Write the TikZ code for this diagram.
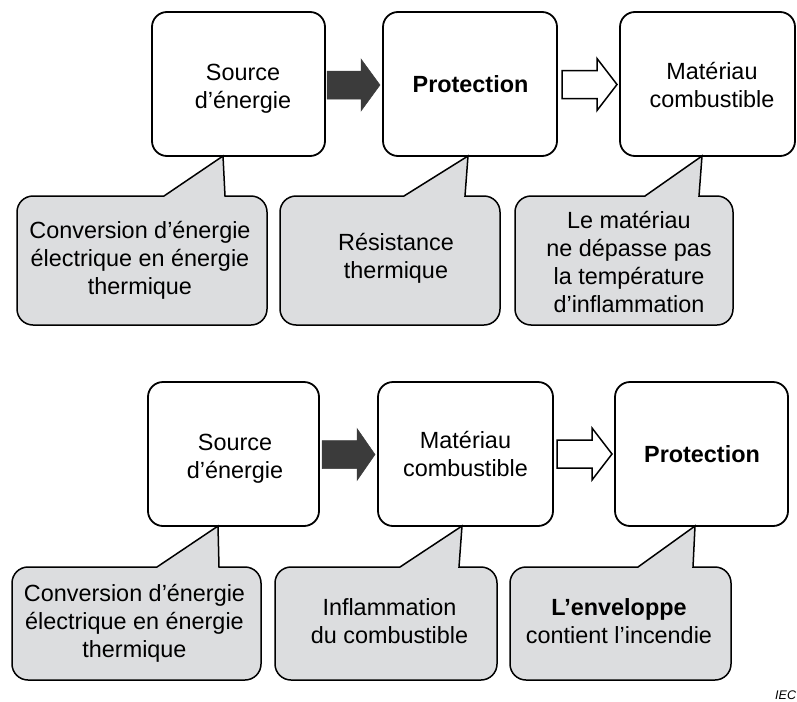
\documentclass[tikz,border=0pt]{standalone}
\usepackage{fontspec}
\setmainfont{Liberation Sans}
\definecolor{bubblegray}{RGB}{220,221,223}
\definecolor{arrowdark}{RGB}{59,59,59}
\newcommand\bubblepath[8]{% L T R B xl xr tx ty
  \filldraw[bubble] (#6,#2) -- ({#3-16},#2) .. controls ({#3-7.2},#2) and (#3,{#2+7.2}) .. (#3,{#2+16})
   -- (#3,{#4-16}) .. controls (#3,{#4-7.2}) and ({#3-7.2},#4) .. ({#3-16},#4)
   -- ({#1+16},#4) .. controls ({#1+7.2},#4) and (#1,{#4-7.2}) .. (#1,{#4-16})
   -- (#1,{#2+16}) .. controls (#1,{#2+7.2}) and ({#1+7.2},#2) .. ({#1+16},#2)
   -- (#5,#2) -- (#7,#8) -- cycle;}
\newcommand\blockarrowpath[7]{% style x1 xh tip yc bodyhalf headhalf
  \filldraw[#1] (#2,{#5-#6}) -- (#3,{#5-#6}) -- (#3,{#5-#7}) -- (#4,#5) -- (#3,{#5+#7}) -- (#3,{#5+#6}) -- (#2,{#5+#6}) -- cycle;}
\begin{document}
\begin{tikzpicture}[x=1pt,y=-1pt,
  box/.style={draw=black, line width=1.8pt, rounded corners=15pt, fill=white,
     inner sep=0pt, minimum height=144pt},
  bubble/.style={draw=black, line width=1.5pt, fill=bubblegray, line join=miter},
  btext/.style={align=center, inner sep=0pt, font=\fontsize{23.4}{28}\selectfont},
  darrow/.style={fill=arrowdark, draw=arrowdark, line width=0.5pt},
  harrow/.style={fill=white, draw=black, line width=1.5pt, line join=miter}]
\useasboundingbox (0,0) rectangle (797,701);
% ---- top row ----
\node[box, minimum width=173pt] (b1) at (238.5,84) {};
\node[box, minimum width=174pt] (b2) at (470,84) {};
\node[box, minimum width=175pt] (b3) at (707.5,84) {};
\node[btext] (t1) at (243,89) {Source\\d’énergie};
\node[btext] (t2) at (470.5,84) {\textbf{Protection}};
\node[btext] (t3) at (712,85) {Matériau\\combustible};
\blockarrowpath{darrow}{327}{361}{380}{85}{14}{26}
\blockarrowpath{harrow}{562}{597}{617}{84.5}{14}{26}
\bubblepath{17}{196}{267}{325}{164}{225}{223}{156}
\bubblepath{280}{196}{500}{325}{404}{465}{468}{156}
\bubblepath{515}{196}{733}{325}{645}{699}{702}{156}
\node[btext] (c1) at (140,260) {Conversion d’énergie\\électrique en énergie\\thermique};
\node[btext] (c2) at (396,258) {Résistance\\thermique};
\node[btext] (c3) at (629,262) {Le matériau\\ne dépasse pas\\la température\\d’inflammation};
% ---- bottom row ----
\node[box, minimum width=171pt] (b4) at (233.5,454) {};
\node[box, minimum width=175pt] (b5) at (465.5,454) {};
\node[box, minimum width=173pt] (b6) at (701.5,454) {};
\node[btext] (t4) at (235,459) {Source\\d’énergie};
\node[btext] (t5) at (465.5,454) {Matériau\\combustible};
\node[btext] (t6) at (702,454) {\textbf{Protection}};
\blockarrowpath{darrow}{322}{357}{375}{454.5}{14}{26}
\blockarrowpath{harrow}{557}{592}{612}{454}{14}{26}
\bubblepath{12}{567}{261}{680}{157}{219}{218}{526}
\bubblepath{275}{567}{497}{680}{400}{459}{462}{526}
\bubblepath{510}{567}{731}{680}{638}{693}{695}{526}
\node[btext] (c4) at (134.5,623) {Conversion d’énergie\\électrique en énergie\\thermique};
\node[btext] (c5) at (389.5,621) {Inflammation\\du combustible};
\node[btext] (c6) at (619,621) {\textbf{L’enveloppe}\\contient l’incendie};
\node[anchor=base west, inner sep=0pt, font=\fontsize{12.5}{14}\selectfont\itshape] (iec) at (775,699) {IEC};
\end{tikzpicture}
\end{document}
